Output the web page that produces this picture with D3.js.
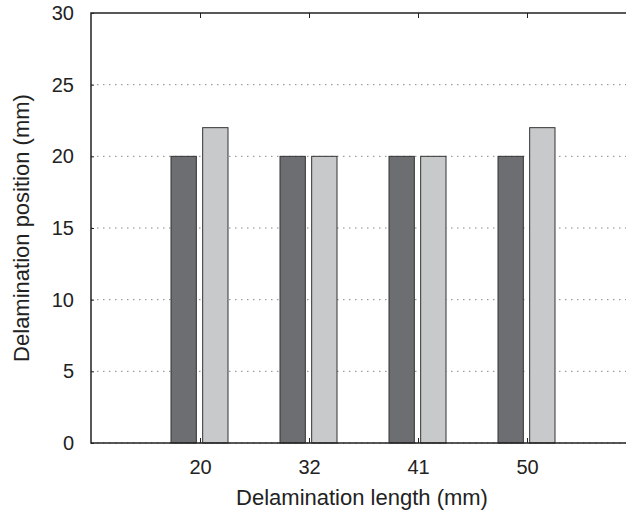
<!DOCTYPE html>
<meta charset="utf-8">
<style>
body { margin: 0; background: #fff; }
text { font-family: "Liberation Sans", Arial, sans-serif; fill: #222; }
.grid line { stroke: #888; stroke-dasharray: 1.5,4.5; }
</style>
<svg width="626" height="514"></svg>
<script src="https://d3js.org/d3.v7.min.js"></script>
<script>

// data
var lengths = ["20", "32", "41", "50"];
var seriesA = [20, 20, 20, 20];
var seriesB = [22, 20, 20, 22];
var yTicks = [0, 5, 10, 15, 20, 25, 30];

var svg = d3.select("svg");

var m = {left: 91, right: 636, top: 13, bottom: 443};

var x = d3.scaleLinear()
    .domain([0, lengths.length + 1])
    .range([m.left, m.right]);

var x1 = d3.scaleBand()
    .domain([0, 1])
    .range([-29, 28])
    .paddingInner(0.2);

var y = d3.scaleLinear()
    .domain([0, 30])
    .range([m.bottom, m.top]);

var colors = ["#6d6e71", "#c8c9cb"];

// gridlines
svg.append("g")
    .attr("class", "grid")
  .selectAll("line")
  .data(yTicks.slice(0, -1))
  .enter().append("line")
    .attr("x1", m.left)
    .attr("x2", m.right)
    .attr("y1", d => y(d))
    .attr("y2", d => y(d));

// bars
var groups = svg.append("g")
  .selectAll("g")
  .data(lengths)
  .enter().append("g")
    .attr("transform", (d, i) => "translate(" + x(i + 1) + ",0)");

groups.selectAll("rect")
  .data((d, i) => [seriesA[i], seriesB[i]])
  .enter().append("rect")
    .attr("x", (d, j) => x1(j))
    .attr("width", x1.bandwidth())
    .attr("y", d => y(d))
    .attr("height", d => y(0) - y(d))
    .attr("fill", (d, j) => colors[j])
    .attr("stroke", "#333")
    .attr("stroke-width", 1);

// frame
svg.append("rect")
    .attr("x", m.left)
    .attr("y", m.top)
    .attr("width", m.right - m.left)
    .attr("height", m.bottom - m.top)
    .attr("fill", "none")
    .attr("stroke", "#222")
    .attr("stroke-width", 1.5);

// y axis
svg.append("g")
    .attr("transform", "translate(" + m.left + ",0)")
    .call(d3.axisLeft(y).tickValues(yTicks).tickSize(-3).tickPadding(17))
    .call(g => g.select(".domain").remove())
    .call(g => g.selectAll("line").attr("stroke", "#222"))
    .call(g => g.selectAll("text").attr("font-size", 20).attr("font-family", null));

// x axis
svg.append("g")
    .attr("transform", "translate(0," + m.bottom + ")")
    .call(d3.axisBottom(x)
      .tickValues(d3.range(1, lengths.length + 1))
      .tickFormat(d => lengths[d - 1])
      .tickSize(-5)
      .tickPadding(17))
    .call(g => g.select(".domain").remove())
    .call(g => g.selectAll("line").attr("stroke", "#222"))
    .call(g => g.selectAll("text").attr("font-size", 20).attr("font-family", null));

// top ticks
svg.append("g")
    .attr("transform", "translate(0," + m.top + ")")
    .call(d3.axisTop(x).tickValues(d3.range(1, lengths.length + 1)).tickSize(-5).tickFormat(""))
    .call(g => g.select(".domain").remove())
    .call(g => g.selectAll("line").attr("stroke", "#222"));

// labels
svg.append("text")
    .attr("x", 362)
    .attr("y", 505)
    .attr("text-anchor", "middle")
    .attr("font-size", 22)
    .text("Delamination length (mm)");

svg.append("text")
    .attr("transform", "translate(29," + (m.top + m.bottom) / 2 + ") rotate(-90)")
    .attr("text-anchor", "middle")
    .attr("font-size", 22)
    .text("Delamination position (mm)");

</script>
